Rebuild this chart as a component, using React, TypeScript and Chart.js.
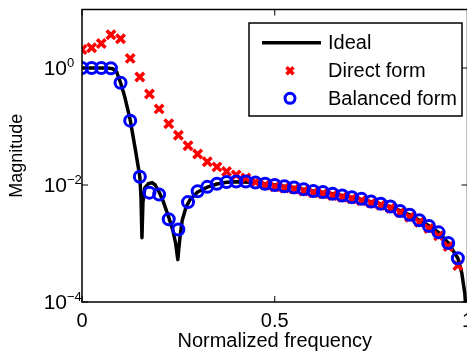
import React, { useEffect, useRef } from "react";
import { Chart, registerables } from "chart.js";

Chart.register(...registerables);

// Sample frequencies of the two implementations
const freq = [
  0, 0.025, 0.05, 0.075, 0.1, 0.125, 0.15, 0.175, 0.2, 0.225,
  0.25, 0.275, 0.3, 0.325, 0.35, 0.375, 0.4, 0.425, 0.45, 0.475,
  0.5, 0.525, 0.55, 0.575, 0.6, 0.625, 0.65, 0.675, 0.7, 0.725,
  0.75, 0.775, 0.8, 0.825, 0.85, 0.875, 0.9, 0.925, 0.95, 0.975,
];

const directForm = [
  2.07, 2.21, 2.63, 3.7, 3.16, 1.46, 0.7, 0.36, 0.2, 0.111,
  0.071, 0.047, 0.034, 0.025, 0.0204, 0.017, 0.0148, 0.0132, 0.0112, 0.01,
  0.0093, 0.0089, 0.0085, 0.0079, 0.0074, 0.0071, 0.0066, 0.0062, 0.0058, 0.0054,
  0.0049, 0.0045, 0.004, 0.0034, 0.0028, 0.0023, 0.0018, 0.00135, 0.00089, 0.00042,
];

const balancedForm = [
  1.0, 1.0, 1.0, 0.99, 0.56, 0.126, 0.0138, 0.0074, 0.0069, 0.0026,
  0.00174, 0.0051, 0.0078, 0.0093, 0.0105, 0.0112, 0.0115, 0.0115, 0.011, 0.0105,
  0.01, 0.0095, 0.0091, 0.0085, 0.0079, 0.0076, 0.0071, 0.0066, 0.0062, 0.0058,
  0.0052, 0.0048, 0.0043, 0.0036, 0.0031, 0.0025, 0.002, 0.00155, 0.00102, 0.00056,
];

// Ideal response
const idealFreq = [
  0, 0.025, 0.05, 0.07, 0.08, 0.09, 0.1, 0.11, 0.125, 0.14,
  0.15, 0.153, 0.1555, 0.158, 0.163, 0.172, 0.182, 0.19, 0.2, 0.21,
  0.225, 0.235, 0.243, 0.2485, 0.254, 0.26, 0.27, 0.28, 0.3, 0.325,
  0.35, 0.375, 0.4, 0.45, 0.5, 0.55, 0.6, 0.65, 0.7, 0.75,
  0.8, 0.85, 0.9, 0.925, 0.95, 0.975, 0.985, 0.993, 1.0,
];
const idealMag = [
  1.0, 1.0, 1.0, 0.99, 0.97, 0.85, 0.56, 0.34, 0.13, 0.035,
  0.0138, 0.0063, 0.00126, 0.005, 0.0089, 0.0105, 0.011, 0.01, 0.0076, 0.0054,
  0.0028, 0.00174, 0.001, 0.00053, 0.00126, 0.0025, 0.0042, 0.0056, 0.0076, 0.0092,
  0.0104, 0.0111, 0.0114, 0.011, 0.01, 0.0091, 0.0079, 0.0071, 0.0062, 0.0052,
  0.0043, 0.0031, 0.002, 0.00155, 0.00102, 0.00056, 0.00032, 0.00014, 0.00003,
];

const xTicks = [0, 0.5, 1];
const yTicks = [1e-4, 1e-2, 1];
const yTickExponents = ["\u22124", "\u22122", "0"];

const legendLabels = ["Ideal", "Direct form", "Balanced form"];
const xTitle = "Normalized frequency";
const yTitle = "Magnitude";

const FONT = "'Liberation Sans', Arial, Helvetica, sans-serif";

const framePlugin = {
  id: "matlabFrame",
  afterDraw(chart: any) {
    const { ctx, chartArea: a, scales } = chart;
    const xs = scales.x;
    const ys = scales.y;
    ctx.save();
    ctx.strokeStyle = "#000";
    ctx.lineWidth = 1.5;
    ctx.strokeRect(a.left, a.top, a.right - a.left, a.bottom - a.top);
    // inner tick marks
    const tl = 6;
    ctx.lineWidth = 1;
    ctx.beginPath();
    xTicks.forEach((v) => {
      const px = xs.getPixelForValue(v);
      ctx.moveTo(px, a.bottom);
      ctx.lineTo(px, a.bottom - tl);
      ctx.moveTo(px, a.top);
      ctx.lineTo(px, a.top + tl);
    });
    yTicks.forEach((v) => {
      const py = ys.getPixelForValue(v);
      ctx.moveTo(a.left, py);
      ctx.lineTo(a.left + tl, py);
      ctx.moveTo(a.right, py);
      ctx.lineTo(a.right - tl, py);
    });
    ctx.stroke();

    // y tick labels with superscript exponents
    ctx.fillStyle = "#000";
    yTicks.forEach((v, i) => {
      const py = ys.getPixelForValue(v);
      ctx.font = `21px ${FONT}`;
      ctx.textAlign = "right";
      ctx.textBaseline = "middle";
      ctx.fillText("10", 67, py + 1);
      ctx.font = `13px ${FONT}`;
      ctx.textAlign = "left";
      ctx.textBaseline = "alphabetic";
      ctx.fillText(yTickExponents[i], 67, py - 1);
    });

    // legend
    const lx = 249, ly = 23, lw = 213, lh = 93;
    ctx.fillStyle = "#fff";
    ctx.fillRect(lx, ly, lw, lh);
    ctx.strokeStyle = "#000";
    ctx.lineWidth = 1.5;
    ctx.strokeRect(lx, ly, lw, lh);
    const rows = [42.7, 70.7, 98.3];
    // line sample
    ctx.lineWidth = 3.5;
    ctx.beginPath();
    ctx.moveTo(262, rows[0]);
    ctx.lineTo(321, rows[0]);
    ctx.stroke();
    // cross sample
    ctx.strokeStyle = "#ff0000";
    ctx.lineWidth = 3.5;
    const c = 3.5;
    ctx.beginPath();
    ctx.moveTo(290 - c, rows[1] - c);
    ctx.lineTo(290 + c, rows[1] + c);
    ctx.moveTo(290 - c, rows[1] + c);
    ctx.lineTo(290 + c, rows[1] - c);
    ctx.stroke();
    // circle sample
    ctx.strokeStyle = "#0000ff";
    ctx.lineWidth = 3;
    ctx.beginPath();
    ctx.arc(290, rows[2], 5, 0, Math.PI * 2);
    ctx.stroke();
    ctx.fillStyle = "#000";
    ctx.font = `20px ${FONT}`;
    ctx.textAlign = "left";
    ctx.textBaseline = "middle";
    legendLabels.forEach((t, i) => ctx.fillText(t, 328, rows[i] + 1));
    ctx.restore();
  },
};

export default function App() {
  const ref = useRef<HTMLCanvasElement | null>(null);

  useEffect(() => {
    if (!ref.current) return;
    const chart = new Chart(ref.current, {
      type: "line",
      data: {
        datasets: [
          {
            label: legendLabels[0],
            data: idealFreq.map((f, i) => ({ x: f, y: idealMag[i] })),
            borderColor: "#000",
            borderWidth: 3.5,
            borderJoinStyle: "round",
            pointRadius: 0,
            tension: 0,
            fill: false,
            order: 3,
          },
          {
            label: legendLabels[1],
            data: freq.map((f, i) => ({ x: f, y: directForm[i] })),
            showLine: false,
            pointStyle: "crossRot",
            pointRadius: 6,
            pointBorderWidth: 3.5,
            pointBorderColor: "#ff0000",
            pointBackgroundColor: "#ff0000",
            borderColor: "#ff0000",
            order: 2,
          },
          {
            label: legendLabels[2],
            data: freq.map((f, i) => ({ x: f, y: balancedForm[i] })),
            showLine: false,
            pointStyle: "circle",
            pointRadius: 5.5,
            pointBorderWidth: 3,
            pointBorderColor: "#0000ff",
            pointBackgroundColor: "rgba(0,0,0,0)",
            borderColor: "#0000ff",
            order: 1,
          },
        ],
      },
      options: {
        animation: false,
        responsive: false,
        devicePixelRatio: 1,
        layout: { padding: { top: 7, right: 32.5, left: 0, bottom: 0 } },
        plugins: { legend: { display: false }, tooltip: { enabled: false } },
        scales: {
          x: {
            type: "linear",
            min: 0,
            max: 1,
            afterBuildTicks: (s: any) => {
              s.ticks = xTicks.map((v) => ({ value: v }));
            },
            afterFit: (s: any) => {
              s.height = 59;
            },
            grid: { display: false, drawTicks: false },
            border: { display: false },
            ticks: {
              color: "#000",
              font: { family: FONT, size: 20 },
              padding: 7,
              maxRotation: 0,
              autoSkip: false,
              callback: (v: any) => String(v),
            },
            title: {
              display: true,
              text: xTitle,
              color: "#000",
              font: { family: FONT, size: 20 },
              padding: { top: 0, bottom: 8 },
            },
          },
          y: {
            type: "logarithmic",
            min: 1e-4,
            max: 10,
            afterBuildTicks: (s: any) => {
              s.ticks = yTicks.map((v) => ({ value: v }));
            },
            afterFit: (s: any) => {
              s.width = 82;
            },
            grid: { display: false, drawTicks: false },
            border: { display: false },
            ticks: { display: false },
            title: {
              display: true,
              text: yTitle,
              color: "#000",
              font: { family: FONT, size: 18 },
              padding: { top: 6, bottom: 0 },
            },
          },
        },
      },
      plugins: [framePlugin],
    });
    return () => chart.destroy();
  }, []);

  return (
    <div
      style={{
        position: "fixed",
        left: 0,
        top: 0,
        width: 467,
        height: 361,
        overflow: "hidden",
        background: "#fff",
      }}
    >
      <canvas ref={ref} width={500} height={361} style={{ display: "block", width: 500, height: 361 }} />
    </div>
  );
}
